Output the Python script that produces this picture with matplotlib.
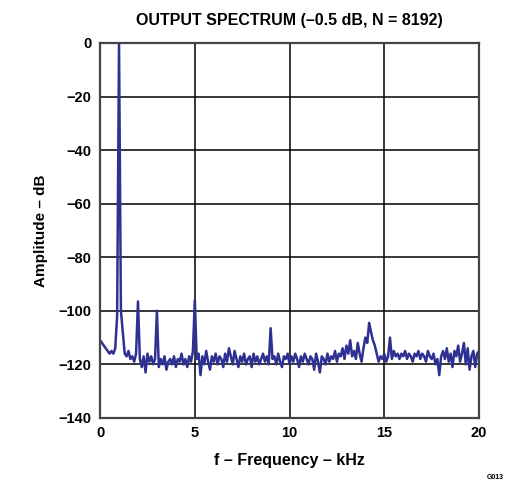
import matplotlib
matplotlib.use('Agg')
import matplotlib.pyplot as plt
import numpy as np

# noise floor, one value per 0.1 kHz bin (0 .. 20 kHz)
noise = [
    -111, -112, -113, -114, -115, -116, -115, -116, -114, -102,
    -116, -100, -108, -116, -117, -115, -118, -117, -119, -116,
    -118, -118, -121, -117, -123, -116, -119, -117, -120, -118,
    -119, -121, -118, -120, -117, -122, -119, -118, -120, -117,
    -121, -118, -119, -116, -120, -118, -121, -117, -119, -115,
    -117, -118, -116, -124, -117, -120, -115, -119, -122, -117,
    -119, -116, -120, -117, -118, -121, -116, -119, -114, -117,
    -120, -115, -118, -121, -117, -119, -116, -120, -118, -117,
    -121, -116, -119, -117, -120, -118, -116, -119, -117, -120,
    -118, -118, -117, -120, -116, -119, -121, -117, -118, -116,
    -120, -117, -119, -116, -118, -121, -117, -119, -116, -118,
    -120, -117, -118, -122, -116, -119, -123, -117, -118, -120,
    -116, -119, -117, -118, -115, -119, -116, -117, -114, -118,
    -113, -116, -111, -117, -115, -118, -112, -116, -119, -114,
    -110, -112, -113, -108, -111, -113, -116, -119, -117, -118,
    -116, -119, -117, -110, -118, -115, -117, -116, -118, -116,
    -117, -115, -118, -116, -117, -119, -116, -117, -115, -118,
    -116, -117, -119, -115, -117, -118, -116, -120, -118, -124,
    -117, -115, -118, -114, -119, -116, -121, -115, -117, -113,
    -119, -116, -112, -120, -114, -122, -117, -115, -121, -116,
    -115,
]

# fundamental and spurs
spur_freq = [1.0, 2.0, 3.0, 5.0, 9.0, 14.2]
spur_level = [0, -96.5, -100, -96, -106.5, -104.5]

freq = np.arange(len(noise)) * 0.1
amp = np.array(noise, dtype=float)
for f, l in zip(spur_freq, spur_level):
    amp[int(round(f * 10))] = l

plt.rcParams['font.family'] = ['Liberation Sans', 'DejaVu Sans']
plt.rcParams['font.weight'] = 'bold'

fig = plt.figure(figsize=(5.08, 4.94), dpi=100)
ax = fig.add_axes([0.197, 0.154, 0.746, 0.759])

ax.plot(freq, amp, color='#2e3192', linewidth=1.8)

ax.set_xlim(0, 20)
ax.set_ylim(-140, 0)
ax.set_xticks([0, 5, 10, 15, 20])
ax.set_yticks(range(-140, 1, 20))
ax.set_yticklabels([str(v).replace('-', '\u2212') for v in range(-140, 1, 20)])
ax.tick_params(length=0, labelsize=10.5, pad=6)
for lab in ax.get_xticklabels() + ax.get_yticklabels():
    lab.set_fontweight('bold')
ax.grid(True, color='black', linewidth=1.1)
for s in ax.spines.values():
    s.set_color('#444444')
    s.set_linewidth(1.6)

ax.set_title('OUTPUT SPECTRUM (\u20130.5 dB, N = 8192)', fontsize=11.5,
             fontweight='bold', pad=13)
ax.set_xlabel('f \u2013 Frequency \u2013 kHz', fontsize=11.5, fontweight='bold',
              labelpad=9)
ax.set_ylabel('Amplitude \u2013 dB', fontsize=11, fontweight='bold',
              labelpad=8)

fig.text(0.958, 0.03, 'G013', fontsize=5, fontweight='bold')

fig.savefig('out.png', dpi=100)
